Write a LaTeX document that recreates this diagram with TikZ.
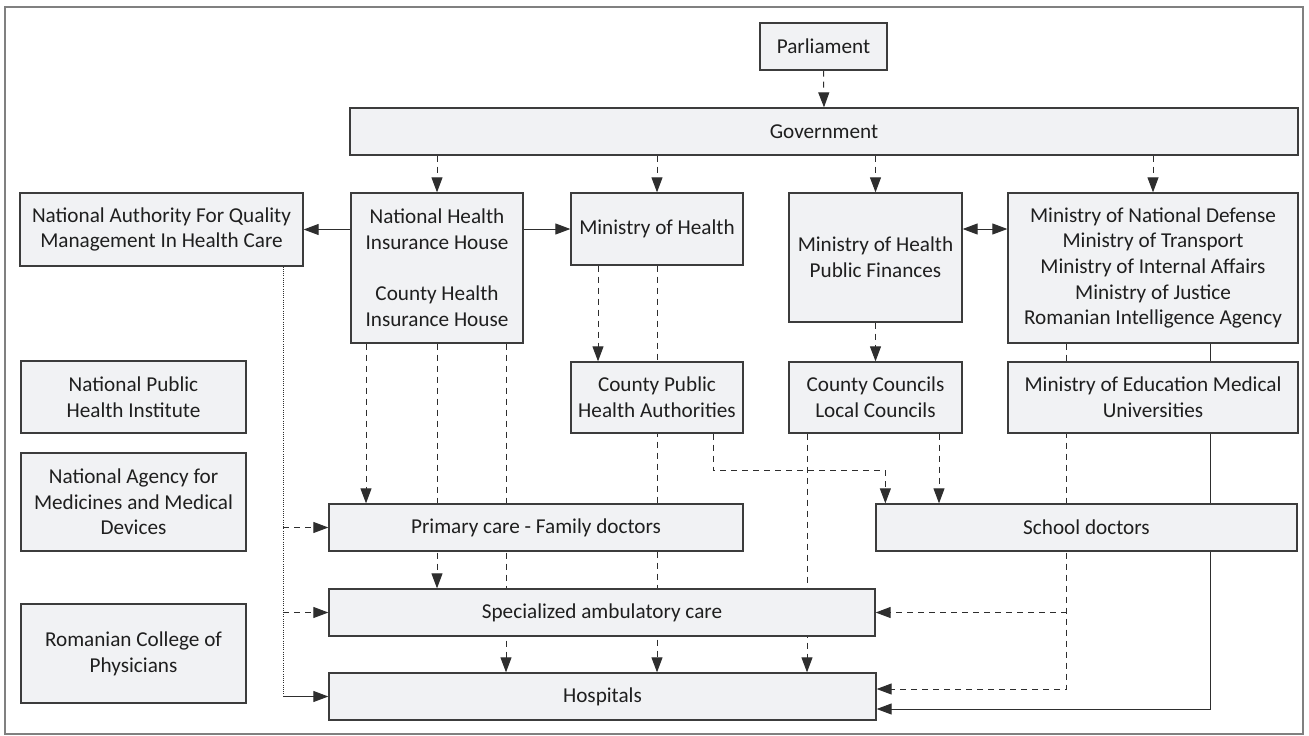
\documentclass[tikz,border=0pt]{standalone}
\usepackage{fontspec}
\setmainfont{Carlito}
\usepackage{tikz}
\usetikzlibrary{calc,arrows.meta,backgrounds}

\definecolor{boxfill}{HTML}{F1F2F4}
\definecolor{boxline}{HTML}{3C3C3C}
\definecolor{linkcol}{HTML}{2E2E2E}

\begin{document}
\begin{tikzpicture}[x=1pt,y=-1pt,>={Triangle[length=15pt,width=11pt]},
    box/.style={draw=boxline,line width=1.3pt,fill=boxfill,inner sep=0pt,align=center,
      font=\fontsize{21.2}{25.7}\selectfont,text=black!88},
    link/.style={draw=linkcol,line width=1pt},
    dlink/.style={link,dash pattern=on 6pt off 5pt},
    tlink/.style={link,dash pattern=on 1pt off 1.2pt}]
			\useasboundingbox (0,0) rectangle (1309,736);
			\draw[gray,line width=1.2pt] (5,7) rectangle (1303,734);
			
			\node[box,minimum width=127,minimum height=47] (parl) at (823.5,46.5) {Parliament};
			\node[box,minimum width=948,minimum height=47] (gov) at (824,131.5) {Government};
			
			\node[box,minimum width=283,minimum height=73] (naqm) at (161.5,229.5) {National Authority For Quality\\Management In Health Care};
			\node[box,minimum width=172,minimum height=150] (nhih) at (437,268) {National Health\\Insurance House\\[25.7pt]County Health\\Insurance House};
			\node[box,minimum width=172,minimum height=72] (moh) at (657,229) {Ministry of Health};
			\node[box,minimum width=173,minimum height=129] (mhpf) at (875.5,257.5) {Ministry of Health\\Public Finances};
			\node[box,minimum width=290,minimum height=150] (mins) at (1153,268) {Ministry of National Defense\\Ministry of Transport\\Ministry of Internal Affairs\\Ministry of Justice\\Romanian Intelligence Agency};
			
			\node[box,minimum width=225,minimum height=72] (npi) at (133.5,397) {National Public\\Health Institute};
			\node[box,minimum width=172,minimum height=71] (cpha) at (657,397.5) {County Public\\Health Authorities};
			\node[box,minimum width=173,minimum height=71] (ccl) at (875.5,397.5) {County Councils\\Local Councils};
			\node[box,minimum width=290,minimum height=71] (medu) at (1153,397.5) {Ministry of Education Medical\\Universities};
			
			\node[box,minimum width=225,minimum height=98] (nam) at (133.5,502) {National Agency for\\Medicines and Medical\\Devices};
			\node[box,minimum width=225,minimum height=99] (rcp) at (133.5,653.5) {Romanian College of\\Physicians};
			
			\node[box,minimum width=414,minimum height=47] (prim) at (536,527.5) {Primary care - Family doctors};
			\node[box,minimum width=421,minimum height=47] (school) at (1086.5,527.5) {School doctors};
			\node[box,minimum width=546,minimum height=47] (spec) at (602,612.5) {Specialized ambulatory care};
			\node[box,minimum width=547,minimum height=47] (hosp) at (602.5,696.5) {Hospitals};
			
			\coordinate (h1) at ($(nhih.south)+(-71,0)$);
			\coordinate (h3) at ($(nhih.south)+(69,0)$);
			\coordinate (m1) at ($(moh.south)+(-59,0)$);
			\coordinate (c1) at ($(cpha.south)+(56,0)$);
			\coordinate (s1) at ($(school.north west)+(10,0)$);
			\coordinate (k1) at ($(ccl.south)+(-68.5,0)$);
			\coordinate (k2) at ($(ccl.south)+(63.5,0)$);
			\coordinate (d1) at ($(mins.south)+(-86.3,0)$);
			\coordinate (e1) at ($(mins.south)+(57,0)$);
			\coordinate (hd) at ($(hosp.east)+(0,-7.5)$);
			\coordinate (hs) at ($(hosp.east)+(0,12.5)$);
			\coordinate (a1) at ($(naqm.south)+(121.5,0)$);
			
			\begin{scope}[on background layer]
			\draw[dlink,->] (parl.south) -- (gov.north);
			\foreach \n in {nhih,moh,mhpf,mins}
				\draw[dlink,->] (gov.south -| \n.north) -- (\n.north);
			
			\draw[link,->] (nhih.west |- naqm.east) -- (naqm.east);
			\draw[link,->] (nhih.east |- moh.west) -- (moh.west);
			\draw[link,<->] (mhpf.east |- moh.east) -- (mins.west |- moh.east);
			
			\draw[dlink,->] (h1) -- (h1 |- prim.north);
			\draw[dlink,->] (nhih.south) -- (nhih.south |- spec.north);
			\draw[dlink,->] (h3) -- (h3 |- hosp.north);
			
			\draw[dlink,->] (m1) -- (m1 |- cpha.north);
			\draw[dlink,->] (moh.south) -- (moh.south |- hosp.north);
			\draw[dlink,->] (c1) -- ++(0,37) -| (s1);
			\draw[dlink,->] (mhpf.south) -- (ccl.north);
			\draw[dlink,->] (k1) -- (k1 |- hosp.north);
			\draw[dlink,->] (k2) -- (k2 |- school.north);
			
			\draw[dlink,->] (d1) |- (hd);
			\draw[dlink,->] (d1 |- spec.east) -- (spec.east);
			\draw[link,->] (e1) |- (hs);
			
			\draw[tlink] (a1) -- (a1 |- hosp.west);
			\draw[link,->] (a1 |- hosp.west) -- (hosp.west);
			\draw[dlink,->] (a1 |- prim.west) -- (prim.west);
			\draw[dlink,->] (a1 |- spec.west) -- (spec.west);
			\end{scope}
		\end{tikzpicture}
\end{document}
